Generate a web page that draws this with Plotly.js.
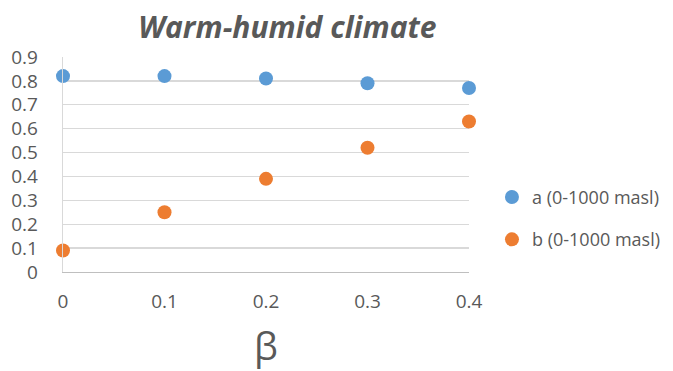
<!DOCTYPE html>
<html><head><meta charset="utf-8">
<script src="https://cdn.plot.ly/plotly-3.0.1.min.js"></script>
<style>body{margin:0;background:#fff}#c{width:673px;height:371px}</style>
</head><body><div id="c"></div>
<script>
const beta = [0, 0.1, 0.2, 0.3, 0.4];
const seriesA = [0.82, 0.82, 0.81, 0.79, 0.77];
const seriesB = [0.09, 0.25, 0.39, 0.52, 0.63];
const nameA = 'a (0-1000 masl)';
const nameB = 'b (0-1000 masl)';
const yTicks = [0, 0.1, 0.2, 0.3, 0.4, 0.5, 0.6, 0.7, 0.8, 0.9];
const xTicks = [0, 0.1, 0.2, 0.3, 0.4];

const FONT = '"Open Sans", sans-serif';
const GREY = '#595959';
const traces = [
  {x: beta, y: seriesA, name: nameA, type: 'scatter', mode: 'markers', cliponaxis: false,
   legendgroup: 'a', marker: {color: '#5B9BD5', size: 14}},
  {x: beta, y: seriesB, name: nameB, type: 'scatter', mode: 'markers', cliponaxis: false,
   legendgroup: 'b', marker: {color: '#ED7D31', size: 14}}
];
const layout = {
  width: 673, height: 371,
  margin: {l: 63, r: 204, t: 57, b: 99, autoexpand: false},
  paper_bgcolor: '#fff', plot_bgcolor: '#fff',
  font: {family: FONT, color: GREY, size: 19},
  title: {text: '<b><i>Warm-humid climate</i></b>', x: 0.427, xanchor: 'center', y: 0.925, yanchor: 'middle',
          font: {family: FONT, size: 30, color: GREY}},
  xaxis: {range: [0, 0.4], tickvals: xTicks, ticktext: xTicks.map(String), showgrid: false,
          zeroline: false, showline: true, linecolor: '#bfbfbf', linewidth: 1.3, automargin: false,
          ticks: '', ticklabelstandoff: 12, tickfont: {size: 19, color: GREY},
          title: {text: 'β', font: {size: 38, color: GREY}, standoff: 22}},
  yaxis: {range: [0, 0.9], tickvals: yTicks, ticktext: yTicks.map(String), showgrid: true, automargin: false,
          gridcolor: '#d9d9d9', gridwidth: 1.3, zeroline: false, showline: true, linecolor: '#d9d9d9',
          linewidth: 1.3, ticks: '', ticklabelstandoff: 20, tickfont: {size: 19, color: GREY}},
  showlegend: true,
  legend: {xref: 'container', x: 0.731, xanchor: 'left', y: 0.25, yanchor: 'middle', traceorder: 'grouped',
           tracegroupgap: 16, font: {size: 18, color: GREY}, itemwidth: 30}
};
Plotly.newPlot('c', traces, layout, {displayModeBar: false, staticPlot: true});
</script></body></html>
